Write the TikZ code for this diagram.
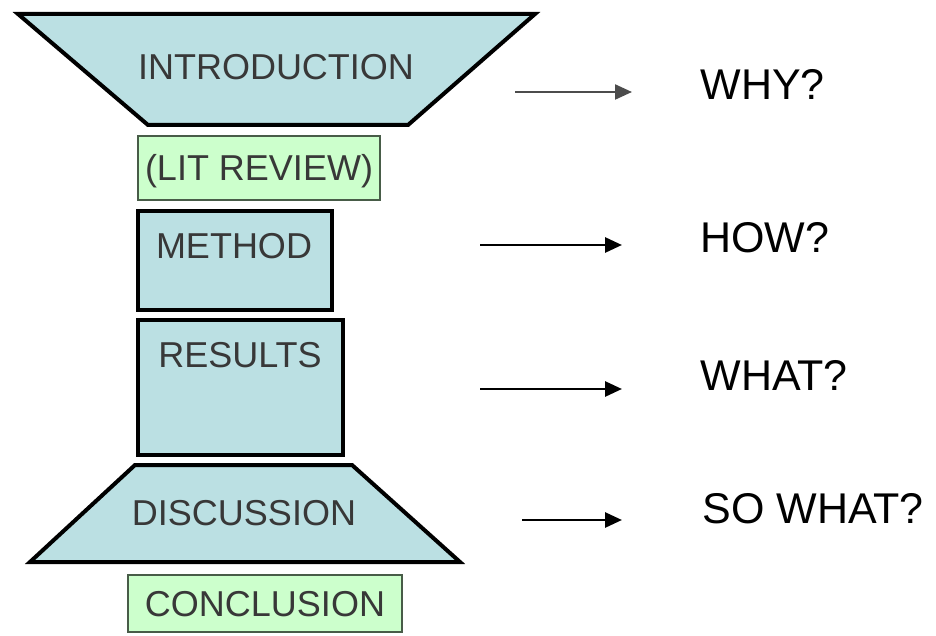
\documentclass[tikz,border=0pt]{standalone}
\usepackage{fontspec}
\setmainfont{Liberation Sans}
\usetikzlibrary{arrows.meta,positioning}

\definecolor{paleblue}{RGB}{187,224,227}
\definecolor{palegreen}{RGB}{204,255,204}
\definecolor{greenedge}{RGB}{72,92,72}

\tikzset{
  part/.style={fill=paleblue,draw=black,line width=2pt,line join=miter},
  notebox/.style={fill=palegreen,draw=greenedge,line width=1pt,inner sep=0pt},
  parttext/.style={text=black!78,font=\fontsize{18}{20}\selectfont,inner sep=0pt,
    text height=12.9pt,text depth=0pt},
  asktext/.style={font=\fontsize{21.5}{24}\selectfont,inner sep=0pt,anchor=west,
    text height=15.4pt,text depth=0pt},
  pointer/.style={line width=1.4pt,-{Triangle[length=8.5pt,width=7.5pt]}}
}

\begin{document}
\begin{tikzpicture}[x=0.5pt,y=-0.5pt]
 \useasboundingbox (0,0) rectangle (936,636);
 % the hourglass
 \draw[part] (18,14)--(535,14)--(408,125)--(148,125)--cycle;
 \draw[part] (138,211) rectangle (332,310);
 \draw[part] (138,320) rectangle (343,455);
 \draw[part] (135,465)--(352,465)--(460,562)--(30,562)--cycle;
 \node[parttext] (intro) at (276,67) {INTRODUCTION};
 \node[parttext] (method) at (234,246) {METHOD};
 \node[parttext] (results) at (240,355) {RESULTS};
 \node[parttext] (discuss) at (244,513) {DISCUSSION};
 \node[notebox,parttext,minimum width=121pt,minimum height=32pt] (lit) at (259,168) {(LIT REVIEW)};
 \node[notebox,parttext,minimum width=137pt,minimum height=28.5pt] (concl) at (265,603.5) {CONCLUSION};
 % questions
 \node[asktext] (why) at (700,84) {WHY?};
 \node[asktext] (how) at (700,237) {HOW?};
 \node[asktext] (what) at (700,375) {WHAT?};
 \node[asktext] (sowhat) at (702,508) {SO WHAT?};
 \coordinate (s1) at (515,92);  \coordinate (e1) at (632,92);
 \coordinate (s2) at (480,245); \coordinate (e2) at (622,245);
 \coordinate (s3) at (480,389); \coordinate (e3) at (622,389);
 \coordinate (s4) at (522,520); \coordinate (e4) at (622,520);
 \draw[pointer,black!70,line width=1.1pt] (s1)--(e1);
 \foreach \k in {2,3,4}
   {\draw[pointer] (s\k)--(e\k);}
\end{tikzpicture}
\end{document}
